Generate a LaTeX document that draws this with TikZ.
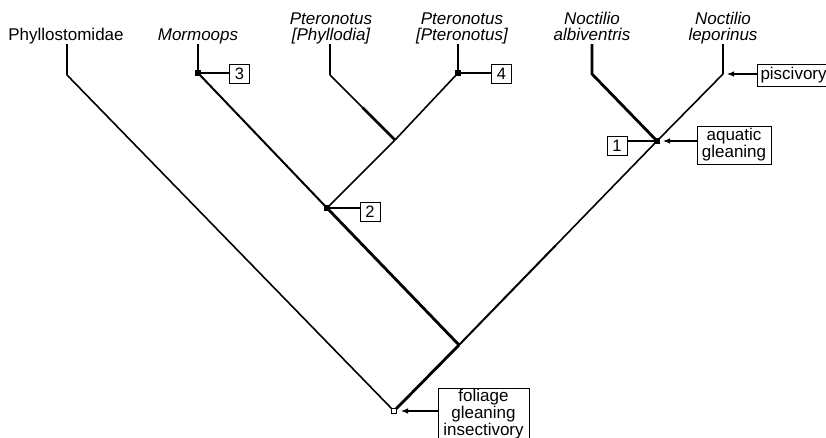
\documentclass[tikz,border=0pt]{standalone}
\usepackage{fontspec}
\setmainfont{Liberation Sans}
\usetikzlibrary{arrows.meta,calc}
\begin{document}
\begin{tikzpicture}[x=1pt,y=-1pt,
  thinl/.style={line width=1.6pt},
  medl/.style={line width=2pt},
  thickl/.style={line width=2.8pt},
  hair/.style={line width=1.1pt},
  taxon/.style={font=\fontsize{17}{16}\selectfont\itshape, align=center, anchor=base, inner sep=0},
  numbox/.style={draw, line width=1pt, minimum width=20pt, minimum height=19pt, inner sep=0, font=\fontsize{16.5}{16}\selectfont},
  charbox/.style={draw, line width=1pt, inner sep=0, align=center, font=\fontsize{17}{15.5}\selectfont},
  dotnode/.style={fill, inner sep=0, minimum size=5.5pt},
  rootnode/.style={draw, fill=white, line width=0.9pt, inner sep=0, minimum size=5pt},
  arr/.style={line width=1.1pt, -{Latex[length=7pt,width=5.5pt]}},
]
\useasboundingbox (0,0) rectangle (826,437);
\clip (0,0) rectangle (826,437);
% internal coordinates
\coordinate (R) at (394,411);
\coordinate (A) at (459,345);
\coordinate (N2) at (327,208);
\coordinate (N3) at (198,73);
\coordinate (P) at (395,140);
\coordinate (N4) at (458,73);
\coordinate (N1) at (657,141);
% tips
\coordinate (phyTop) at (67,44);   \coordinate (phyBase) at (67,75);
\coordinate (morTop) at (198,44);
\coordinate (phoTop) at (330,44);  \coordinate (phoBase) at (330,75);
\coordinate (pteTop) at (458,44);
\coordinate (albTop) at (592,44);  \coordinate (albBase) at (592,74);
\coordinate (lepTop) at (723,44);  \coordinate (lepBase) at (723,74);
% taxon labels
\node[taxon, font=\fontsize{17}{16}\selectfont\upshape] (tPhy) at (66,40) {Phyllostomidae};
\node[taxon] (tMor) at (198,40) {Mormoops};
\node[taxon] (tPho) at (331,40) {Pteronotus\\{[Phyllodia]}};
\node[taxon] (tPte) at (462,40) {Pteronotus\\{[Pteronotus]}};
\node[taxon] (tAlb) at (592,40) {Noctilio\\albiventris};
\node[taxon] (tLep) at (723,40) {Noctilio\\leporinus};
% branches
\draw[thickl] (phyTop) -- (phyBase);
\draw[thinl] (phyBase) -- (R);
\draw[thickl] (R) -- (A);
\draw[thickl] (A) -- (N2);
\draw[medl] (A) -- ($(A)!0.49!(N1)$);
\draw[thinl] ($(A)!0.49!(N1)$) -- (N1);
\draw[medl] (N2) -- (N3);
\draw[hair] (N3) -- (morTop);
\draw[thinl] (N2) -- (P);
\draw[thickl] (P) -- ($(P)!0.5!(phoBase)$);
\draw[thinl] ($(P)!0.5!(phoBase)$) -- (phoBase);
\draw[thickl] (phoBase) -- (phoTop);
\draw[thinl] (P) -- (N4);
\draw[thickl] (N4) -- (pteTop);
\draw[thickl] (N1) -- (albBase) -- (albTop);
\draw[thinl] (N1) -- (lepBase);
\draw[thickl] (lepBase) -- (lepTop);
% node markers
\node[dotnode] (d1) at (N1) {};
\node[dotnode] (d2) at (N2) {};
\node[dotnode] (d3) at (N3) {};
\node[dotnode] (d4) at (N4) {};
\node[rootnode] (dR) at (R) {};
% numbered boxes
\node[numbox] (b1) at (617,145.5) {1};
\node[numbox] (b2) at (370,212) {2};
\node[numbox] (b3) at (239.5,74) {3};
\node[numbox] (b4) at (501.5,74) {4};
\draw[hair] (d1.center) -- (d1.center -| b1.east);
\draw[hair] (d2.center) -- (d2.center -| b2.west);
\draw[hair] (d3.center) -- (d3.center -| b3.west);
\draw[hair] (d4.center) -- (d4.center -| b4.west);
% character boxes
\node[charbox, minimum width=74pt, minimum height=38pt] (aq) at (734,145) {aquatic\\gleaning};
\node[charbox, anchor=west, minimum height=22pt, inner xsep=3pt] (pis) at (757,75) {piscivory};
\node[charbox, anchor=north, minimum width=91pt, minimum height=48pt, inner ysep=0.5pt, font=\fontsize{17}{14.4}\selectfont] (fol) at (483.5,388) {foliage\\gleaning\\insectivory};
\coordinate (aqTip) at (663,141);
\coordinate (pisTip) at (727,74);
\coordinate (folTip) at (401,411);
\draw[arr] (aq.west |- aqTip) -- (aqTip);
\draw[arr] (pis.west |- pisTip) -- (pisTip);
\draw[arr] (fol.west |- folTip) -- (folTip);
\end{tikzpicture}
\end{document}
